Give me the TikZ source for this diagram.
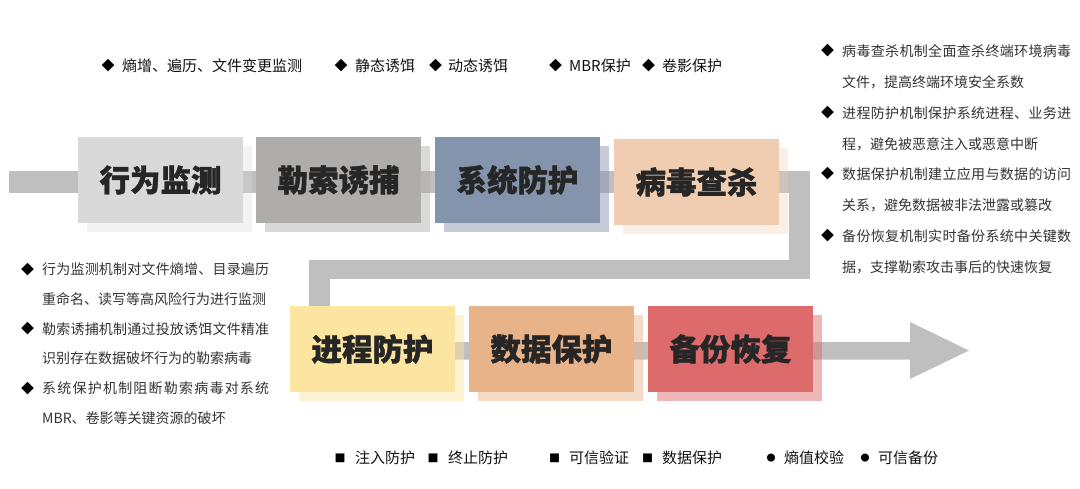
\documentclass[tikz,border=0pt]{standalone}
\usepackage{fontspec}
\setmainfont{Noto Sans CJK SC}
\newfontfamily\heavyfont{Noto Sans CJK SC}[BoldFeatures={FakeBold=1.3}]
\definecolor{band}{HTML}{BFBFBF}
\definecolor{c1}{HTML}{D9D9D9}
\definecolor{c2}{HTML}{AEADAB}
\definecolor{c3}{HTML}{8594AD}
\definecolor{c4}{HTML}{F0CDB0}
\definecolor{c5}{HTML}{FBE5A1}
\definecolor{c6}{HTML}{E9B38A}
\definecolor{c7}{HTML}{DE6B6B}
\definecolor{boxtext}{HTML}{262626}
\definecolor{desctext}{HTML}{333333}
\definecolor{lbltext}{HTML}{111111}
\makeatletter
\newcommand\spreadto[2]{\hbox to #1{\def\sp@sep{}\@tfor\sp@c:=#2\do{\sp@sep\sp@c\def\sp@sep{\hfil}}}}
\makeatother
\begin{document}
\begin{tikzpicture}[x=1pt,y=-1pt,
  mainbox/.style={minimum width=165pt,minimum height=86pt,inner sep=0pt,
    font=\fontsize{30.5}{36}\heavyfont\bfseries,text=boxtext},
  shadowbox/.style={minimum width=165pt,minimum height=86pt,inner sep=0pt},
  desc/.style={anchor=west,inner sep=0pt,text height=12pt,text depth=1.6pt,
    font=\fontsize{14}{16}\selectfont,text=desctext},
  lbl/.style={anchor=west,inner sep=0pt,text height=12.8pt,text depth=1.7pt,
    font=\fontsize{15}{17}\selectfont,text=lbltext},
  dia/.style={inner sep=0pt,font=\fontsize{13}{14}\selectfont,text=black},
  sq/.style={inner sep=0pt,font=\fontsize{11}{12}\selectfont,text=black},
  dot/.style={inner sep=0pt,font=\fontsize{9}{10}\selectfont,text=black},
]
\useasboundingbox (0,0) rectangle (1080,488);
% flow band
\fill[band] (9,171) rectangle (810,193);
\fill[band] (789,171) rectangle (810,279);
\fill[band] (309,260) rectangle (810,279);
\fill[band] (309,260) rectangle (330,310);
\fill[band] (309,342) -- (910,342) -- (910,322) -- (969,350.5) -- (910,379) -- (910,359.5) -- (309,359.5) -- cycle;
% shadows
\foreach \n/\x/\y/\c/\o in {1/160.5/180/c1/0.34, 2/338.5/180/c2/0.46, 3/517.5/180/c3/0.48,
  4/696.5/182/c4/0.32, 5/372.5/349/c5/0.49, 6/551.5/349/c6/0.48, 7/730.5/349/c7/0.48}
  \node[shadowbox,fill=\c,fill opacity=\o] (s\n) at (\x+9,\y+9) {};
% main boxes
\node[mainbox,fill=c1] (b1) at (160.5,180) {行为监测};
\node[mainbox,fill=c2] (b2) at (338.5,180) {勒索诱捕};
\node[mainbox,fill=c3] (b3) at (517.5,180) {系统防护};
\node[mainbox,fill=c4] (b4) at (696.5,182) {病毒查杀};
\node[mainbox,fill=c5] (b5) at (372.5,349) {进程防护};
\node[mainbox,fill=c6] (b6) at (551.5,349) {数据保护};
\node[mainbox,fill=c7] (b7) at (730.5,349) {备份恢复};
% top labels
\node[dia] (tb1) at (108,66) {◆};   \node[lbl] (tl1) at (122,66) {熵增、遍历、文件变更监测};
\node[dia] (tb2) at (341,66) {◆};   \node[lbl] (tl2) at (355,66) {静态诱饵};
\node[dia] (tb3) at (435.5,66) {◆}; \node[lbl] (tl3) at (448,66) {动态诱饵};
\node[dia] (tb4) at (555.5,66) {◆}; \node[lbl] (tl4) at (569,66) {MBR保护};
\node[dia] (tb5) at (648.5,66) {◆}; \node[lbl] (tl5) at (662,66) {卷影保护};
% right description
\node[dia] (rb1) at (827.5,51) {◆};
\node[desc] (r1) at (842,51) {\spreadto{229pt}{病毒查杀机制全面查杀终端环境病毒}};
\node[desc] (r2) at (842,82) {文件，提高终端环境安全系数};
\node[dia] (rb2) at (827.5,113) {◆};
\node[desc] (r3) at (842,113) {\spreadto{229pt}{进程防护机制保护系统进程、业务进}};
\node[desc] (r4) at (842,144) {程，避免被恶意注入或恶意中断};
\node[dia] (rb3) at (827.5,174) {◆};
\node[desc] (r5) at (842,174) {\spreadto{229pt}{数据保护机制建立应用与数据的访问}};
\node[desc] (r6) at (842,205) {关系，避免数据被非法泄露或篡改};
\node[dia] (rb4) at (827.5,236) {◆};
\node[desc] (r7) at (842,236) {\spreadto{229pt}{备份恢复机制实时备份系统中关键数}};
\node[desc] (r8) at (842,267) {据，支撑勒索攻击事后的快速恢复};
% left description
\node[dia] (lb1) at (27.5,269.5) {◆};
\node[desc] (l1) at (42,269.5) {\spreadto{227pt}{行为监测机制对文件熵增、目录遍历}};
\node[desc] (l2) at (42,299.2) {重命名、读写等高风险行为进行监测};
\node[dia] (lb2) at (27.5,328.9) {◆};
\node[desc] (l3) at (42,328.9) {\spreadto{227pt}{勒索诱捕机制通过投放诱饵文件精准}};
\node[desc] (l4) at (42,358.6) {识别存在数据破坏行为的勒索病毒};
\node[dia] (lb3) at (27.5,388.3) {◆};
\node[desc] (l5) at (42,388.3) {\spreadto{227pt}{系统保护机制阻断勒索病毒对系统}};
\node[desc] (l6) at (42,418) {MBR、卷影等关键资源的破坏};
% bottom labels
\node[sq] (bb1) at (340,458) {■};    \node[lbl] (bl1) at (355,458) {注入防护};
\node[sq] (bb2) at (433,458) {■};    \node[lbl] (bl2) at (448,458) {终止防护};
\node[sq] (bb3) at (554.5,458) {■};  \node[lbl] (bl3) at (569,458) {可信验证};
\node[sq] (bb4) at (647.5,458) {■};  \node[lbl] (bl4) at (662,458) {数据保护};
\node[dot] (bb5) at (771,458) {●};   \node[lbl] (bl5) at (784,458) {熵值校验};
\node[dot] (bb6) at (865,458) {●};   \node[lbl] (bl6) at (878,458) {可信备份};
\end{tikzpicture}
\end{document}
